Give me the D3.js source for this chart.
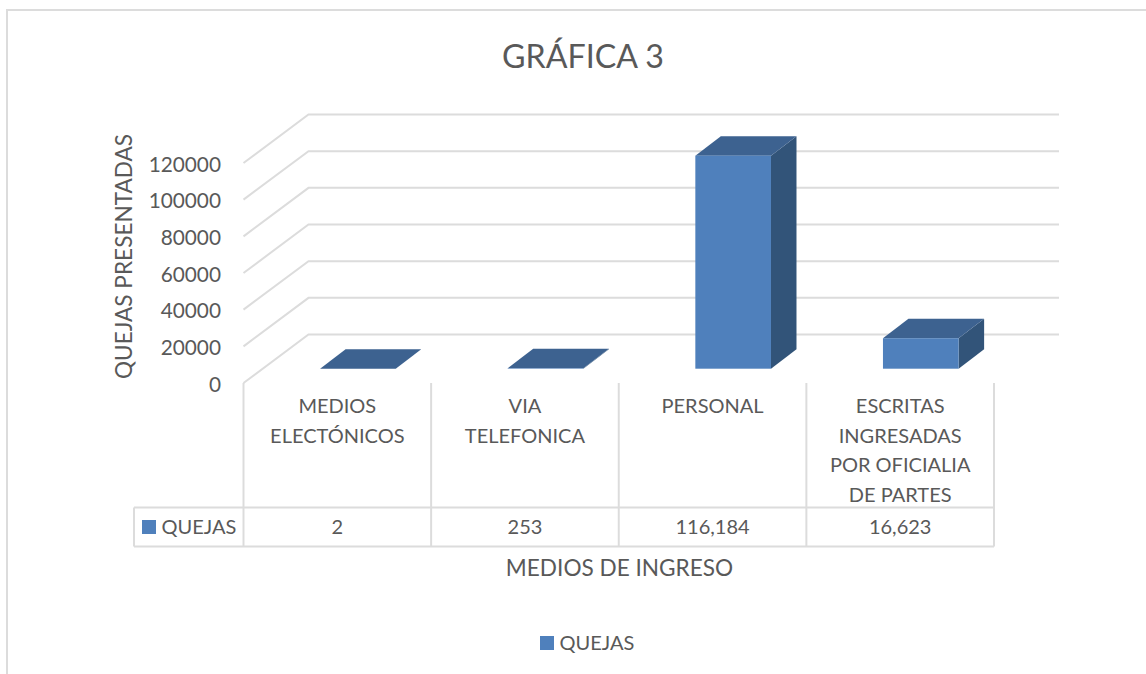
<!DOCTYPE html>
<html>
<head>
<meta charset="utf-8">
<script src="https://cdn.jsdelivr.net/npm/d3@7/dist/d3.min.js"></script>
<style>
  body { margin: 0; background: #fff; }
  svg { display: block; }
  text { font-family: Lato, sans-serif; fill: #595959; }
</style>
</head>
<body>
<div id="chart"></div>
<script>
const categories = ['MEDIOS|ELECTÓNICOS', 'VIA|TELEFONICA', 'PERSONAL', 'ESCRITAS|INGRESADAS|POR OFICIALIA|DE PARTES'];
const quejas = [2, 253, 116184, 16623];
const tableLabels = ['2', '253', '116,184', '16,623'];
const yTicks = [0, 20000, 40000, 60000, 80000, 100000, 120000];
const seriesName = 'QUEJAS';

const width = 1146;
const height = 674;
const gridColor = '#dcdcdc';
const lineWidth = 2;
const colors = { front: '#4f80bc', top: '#3d6290', side: '#325479' };

// proyeccion de la caja 3D
const wall = { dx: 65, dy: 48.5 };
const barFront = { dx: 20.6, dy: 14.3 };
const barDepth = { dx: 25.5, dy: 19.4 };

const svg = d3.select('#chart').append('svg').attr('width', width).attr('height', height);

const x = d3.scaleBand().domain(categories).range([243.5, 994]);
const inner = d3.scaleBand().domain([seriesName]).range([0, x.bandwidth()]).paddingOuter(0.74);
const y = d3.scaleLinear().domain([0, 120000]).range([383, 163]);

svg.append('path')
  .attr('d', 'M7,674V10H1146')
  .attr('fill', 'none').attr('stroke', gridColor).attr('stroke-width', lineWidth);

// paredes
const grid = svg.append('g').attr('fill', 'none').attr('stroke', gridColor).attr('stroke-width', lineWidth);
yTicks.forEach((tick) => {
  const left = x.range()[0];
  const right = x.range()[1];
  grid.append('path').attr('d', d3.line()([
    [left, y(tick)],
    [left + wall.dx, y(tick) - wall.dy],
    [right + wall.dx, y(tick) - wall.dy]
  ]));
});

// barras
categories.forEach((category, i) => {
  const x0 = x(category) + inner(seriesName) + barFront.dx;
  const x1 = x0 + inner.bandwidth();
  const y0 = y(0) - barFront.dy;
  const y1 = y(quejas[i]) - barFront.dy;
  const d = barDepth;
  const bar = svg.append('g').attr('class', 'bar');
  bar.append('polygon').attr('fill', colors.side)
    .attr('points', [[x1, y1], [x1 + d.dx, y1 - d.dy], [x1 + d.dx, y0 - d.dy], [x1, y0]].join(' '));
  bar.append('polygon').attr('fill', colors.top)
    .attr('points', [[x0, y1], [x0 + d.dx, y1 - d.dy], [x1 + d.dx, y1 - d.dy], [x1, y1]].join(' '));
  bar.append('rect').attr('fill', colors.front)
    .attr('x', x0).attr('y', y1).attr('width', x1 - x0).attr('height', y0 - y1);
});

// eje y
const yAxis = svg.append('g').attr('transform', 'translate(221,1.5)')
  .call(d3.axisLeft(y).tickValues(yTicks).tickSize(0).tickPadding(0).tickFormat(d3.format('d')));
yAxis.select('.domain').remove();
yAxis.selectAll('text').style('font-family', 'Lato, sans-serif').style('font-size', '20.8px').attr('fill', '#595959');

// tabla de datos
const tableTop = 507.5;
const tableBottom = 546.5;
const tableLeft = 134;
const table = svg.append('g').attr('fill', 'none').attr('stroke', gridColor).attr('stroke-width', lineWidth);
table.append('path').attr('d', `M${tableLeft},${tableTop}H${x.range()[1]}M${tableLeft},${tableBottom}H${x.range()[1]}M${tableLeft},${tableTop}V${tableBottom}`);
categories.forEach((category) => {
  table.append('line').attr('x1', x(category)).attr('x2', x(category)).attr('y1', 383).attr('y2', tableBottom);
});
table.append('line').attr('x1', x.range()[1]).attr('x2', x.range()[1]).attr('y1', 383).attr('y2', tableBottom);

const fontSize = 20;
const titleSize = 22.6;
categories.forEach((category, i) => {
  const cx = x(category) + x.bandwidth() / 2;
  category.split('|').forEach((line, k) => {
    svg.append('text').attr('x', cx).attr('y', 413 + k * 29.5)
      .attr('text-anchor', 'middle').attr('font-size', fontSize).text(line);
  });
  svg.append('text').attr('x', cx).attr('y', 534)
    .attr('text-anchor', 'middle').attr('font-size', fontSize).text(tableLabels[i]);
});
svg.append('rect').attr('x', 142).attr('y', 520).attr('width', 14).attr('height', 14).attr('fill', colors.front);
svg.append('text').attr('x', 161.5).attr('y', 534).attr('font-size', fontSize).text(seriesName);

// titulos
svg.append('text').attr('x', 583).attr('y', 68).attr('text-anchor', 'middle').attr('font-size', 32.2).text('GRÁFICA 3');
svg.append('text').attr('x', 619.5).attr('y', 576).attr('text-anchor', 'middle').attr('font-size', titleSize).text('MEDIOS DE INGRESO');
svg.append('text').attr('transform', 'translate(132,256.5) rotate(-90)').attr('text-anchor', 'middle').attr('font-size', titleSize).text('QUEJAS PRESENTADAS');

// leyenda
svg.append('rect').attr('x', 540).attr('y', 636).attr('width', 14).attr('height', 14).attr('fill', colors.front);
svg.append('text').attr('x', 559.5).attr('y', 650).attr('font-size', fontSize).text(seriesName);
</script>
</body>
</html>
